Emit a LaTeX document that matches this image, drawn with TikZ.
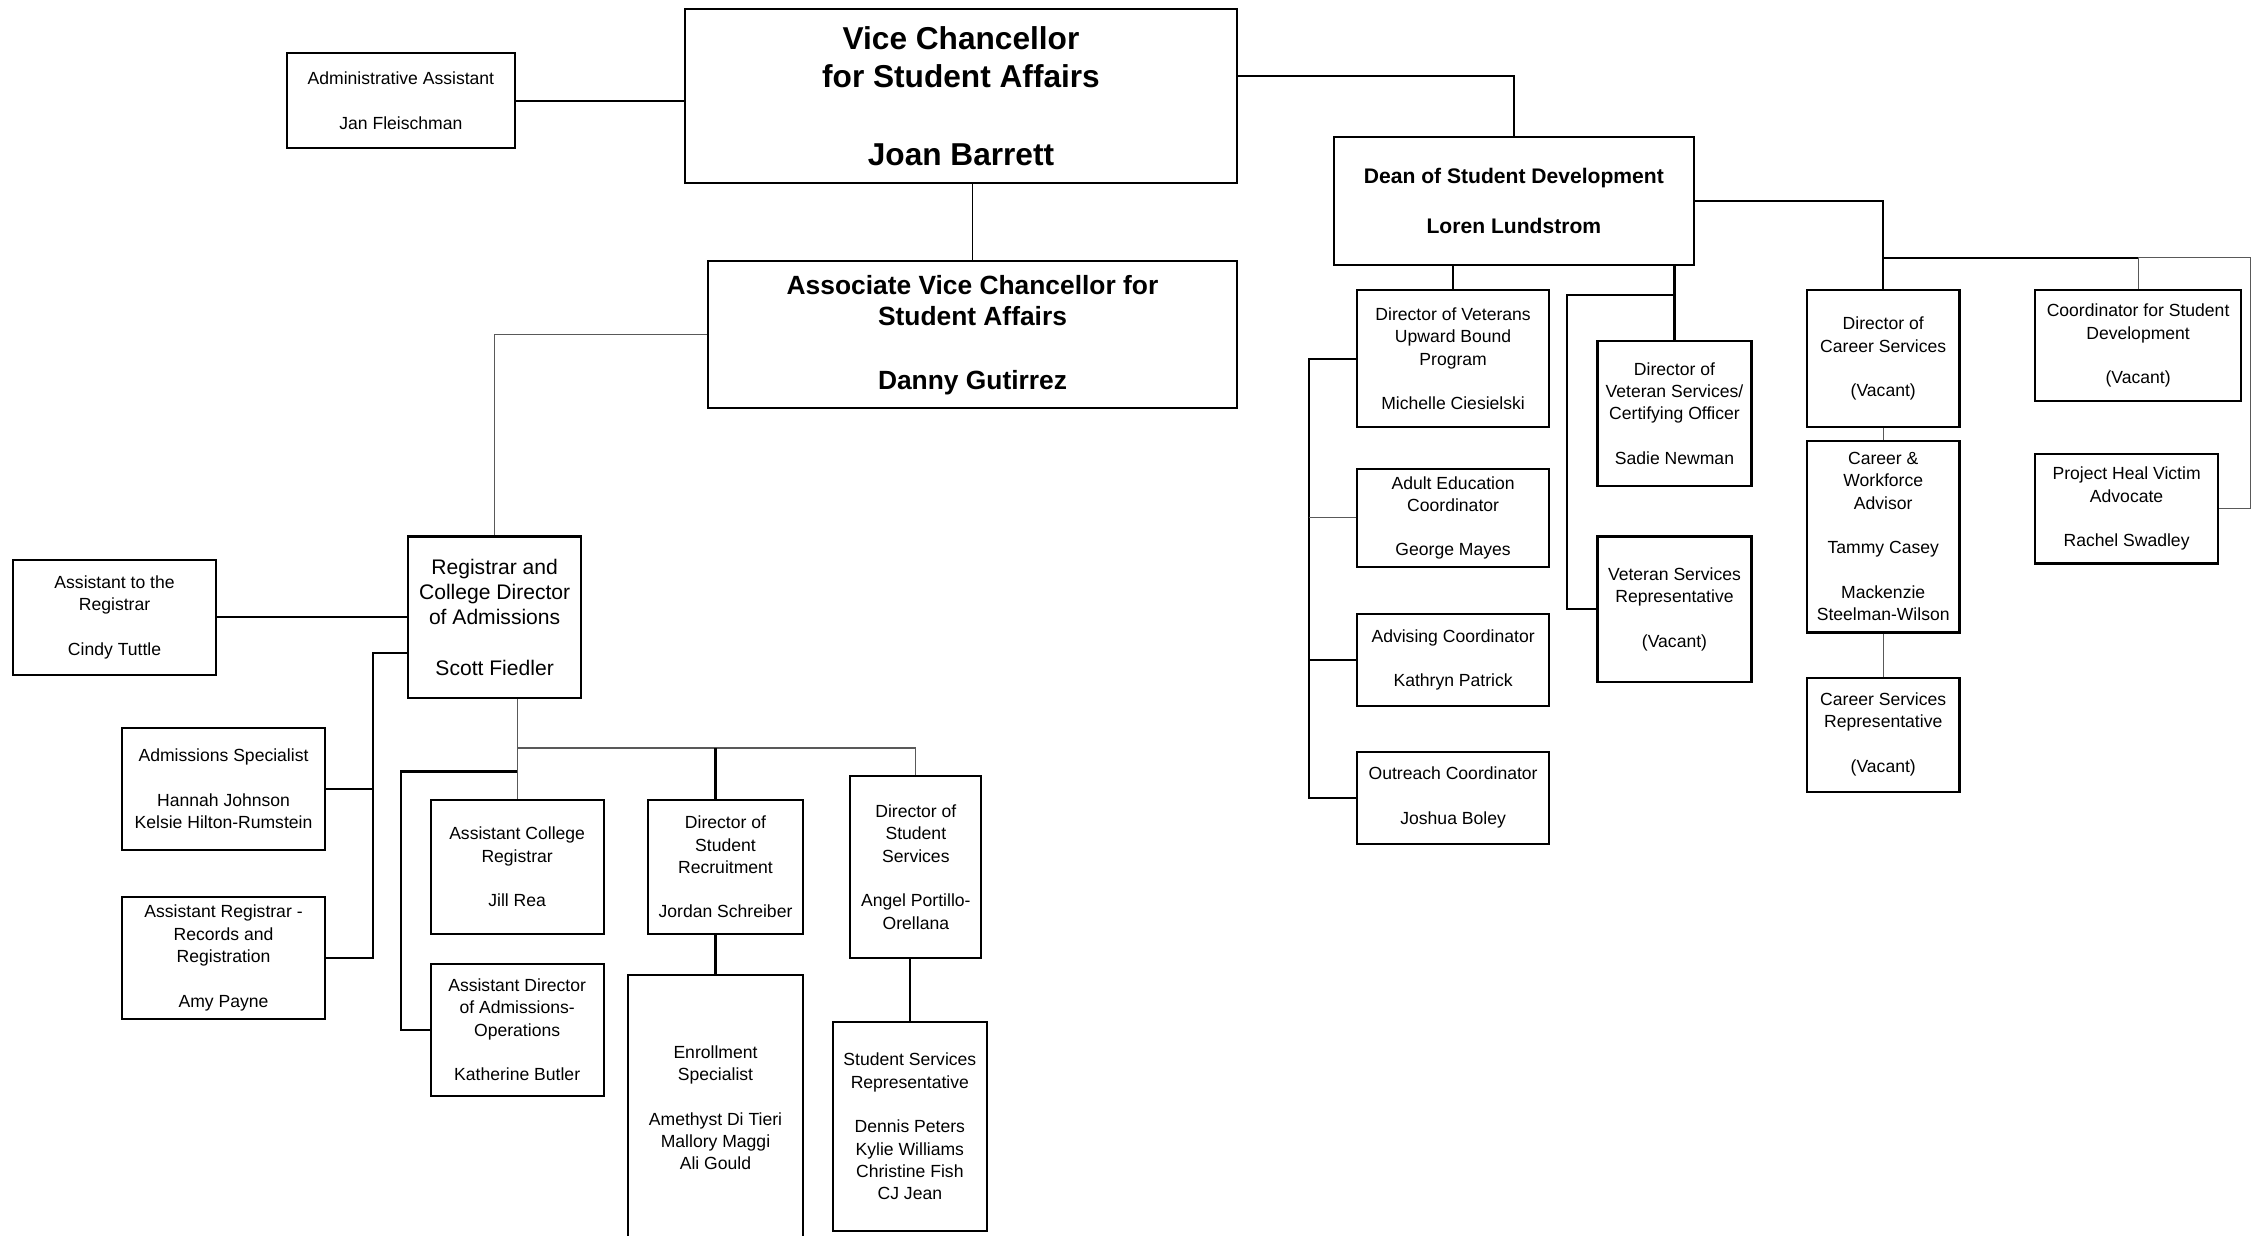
\documentclass[tikz,border=0pt]{standalone}
\usepackage{fontspec}
\setmainfont{Liberation Sans}
\usetikzlibrary{positioning}

\begin{document}
\begin{tikzpicture}[
    node distance=0.8cm and 1cm,
    box/.style={rectangle, draw, line width=1.2pt, align=center, inner sep=1pt, font=\fontsize{10}{12.7}\selectfont},
    link/.style={line width=1.2pt},
    thinlink/.style={line width=0.6pt, black!65}
]
    \useasboundingbox (0,0) rectangle (45.16,-24.71);

    % Top row
    \node[box, minimum width=11.03cm, minimum height=3.48cm, font=\fontsize{18}{22}\selectfont\bfseries] (vc) at (19.22,-1.915) {Vice Chancellor\\for Student Affairs\\[\baselineskip]Joan Barrett};
    \node[box, minimum width=4.55cm, minimum height=1.9cm, left=3.37cm of vc, yshift=-0.1cm] (admin) {Administrative Assistant\\[\baselineskip]Jan Fleischman};
    \node[box, minimum width=10.57cm, minimum height=2.94cm, font=\fontsize{15}{18}\selectfont\bfseries, below=1.53cm of vc.south east, anchor=north east] (avc) {Associate Vice Chancellor for\\Student Affairs\\[\baselineskip]Danny Gutirrez};
    \node[box, minimum width=7.2cm, minimum height=2.56cm, font=\fontsize{12}{14.3}\selectfont\bfseries, below right=2.56cm and 1.9cm of vc.north east] (dean) {Dean of Student Development\\[\baselineskip]Loren Lundstrom};

    % Registrar branch
    \node[box, minimum width=3.46cm, minimum height=3.23cm, font=\fontsize{12}{14.3}\selectfont, below left=2.52cm and 2.5cm of avc.south west] (reg) {Registrar and\\College Director\\of Admissions\\[\baselineskip]Scott Fiedler};
    \node[box, minimum width=4.06cm, minimum height=2.3cm, left=3.8cm of reg] (atr) {Assistant to the\\Registrar\\[\baselineskip]Cindy Tuttle};
    \node[box, minimum width=4.06cm, minimum height=2.45cm, below left=0.55cm and 1.62cm of reg.south west] (admspec) {Admissions Specialist\\[\baselineskip]Hannah Johnson\\Kelsie Hilton-Rumstein};
    \node[box, minimum width=4.06cm, minimum height=2.45cm, below=0.89cm of admspec] (arr) {Assistant Registrar -\\Records and\\Registration\\[\baselineskip]Amy Payne};
    \node[box, minimum width=3.46cm, minimum height=2.68cm, below=2.0cm of reg, xshift=0.45cm] (acr) {Assistant College\\Registrar\\[\baselineskip]Jill Rea};
    \node[box, minimum width=3.46cm, minimum height=2.65cm, below=0.55cm of acr] (adao) {Assistant Director\\of Admissions-\\Operations\\[\baselineskip]Katherine Butler};
    \node[box, minimum width=3.11cm, minimum height=2.68cm, right=0.84cm of acr] (dsr) {Director of\\Student\\Recruitment\\[\baselineskip]Jordan Schreiber};
    \node[box, minimum width=3.51cm, minimum height=5.3cm, below=0.78cm of dsr.south east, anchor=north east] (es) {Enrollment\\Specialist\\[\baselineskip]Amethyst Di Tieri\\Mallory Maggi\\Ali Gould};
    \node[box, minimum width=2.62cm, minimum height=3.63cm, right=0.9cm of dsr] (dss) {Director of\\Student\\Services\\[\baselineskip]Angel Portillo-\\Orellana};
    \node[box, minimum width=3.08cm, minimum height=4.18cm, below=1.24cm of dss, xshift=-0.12cm] (ssr) {Student Services\\Representative\\[\baselineskip]Dennis Peters\\Kylie Williams\\Christine Fish\\CJ Jean};

    % Student development branch
    \node[box, minimum width=3.83cm, minimum height=2.74cm, below right=0.47cm and 0.47cm of dean.south west] (dvub) {Director of Veterans\\Upward Bound\\Program\\[\baselineskip]Michelle Ciesielski};
    \node[box, minimum width=3.83cm, minimum height=1.96cm, below=0.79cm of dvub] (aec) {Adult Education\\Coordinator\\[\baselineskip]George Mayes};
    \node[box, minimum width=3.83cm, minimum height=1.84cm, below=0.9cm of aec] (advc) {Advising Coordinator\\[\baselineskip]Kathryn Patrick};
    \node[box, minimum width=3.83cm, minimum height=1.84cm, below=0.87cm of advc] (outc) {Outreach Coordinator\\[\baselineskip]Joshua Boley};
    \node[box, minimum width=3.08cm, minimum height=2.91cm, below right=1.01cm and 0.93cm of dvub.north east] (dvs) {Director of\\Veteran Services/\\Certifying Officer\\[\baselineskip]Sadie Newman};
    \node[box, minimum width=3.08cm, minimum height=2.91cm, below=0.96cm of dvs] (vsr) {Veteran Services\\Representative\\[\baselineskip](Vacant)};
    \node[box, minimum width=3.05cm, minimum height=2.74cm, right=5.12cm of dvub] (dcs) {Director of\\Career Services\\[\baselineskip](Vacant)};
    \node[box, minimum width=3.05cm, minimum height=3.83cm, below=0.23cm of dcs] (cwa) {Career \&\\Workforce\\Advisor\\[\baselineskip]Tammy Casey\\[\baselineskip]Mackenzie\\Steelman-Wilson};
    \node[box, minimum width=3.05cm, minimum height=2.28cm, below=0.86cm of cwa] (csr) {Career Services\\Representative\\[\baselineskip](Vacant)};
    \node[box, minimum width=4.12cm, minimum height=2.22cm, right=1.47cm of dcs.north east, anchor=north west] (csd) {Coordinator for Student\\Development\\[\baselineskip](Vacant)};
    \node[box, minimum width=3.66cm, minimum height=2.19cm, below=1.01cm of csd.south west, anchor=north west] (phv) {Project Heal Victim\\Advocate\\[\baselineskip]Rachel Swadley};

    % Lines from the top
    \draw[link] (admin.east) -- (admin.east -| vc.west);
    \draw[thinlink, black] (avc.north) -- (avc.north |- vc.south);
    \draw[link] ([yshift=0.39cm]vc.east) -| (dean.north);
    \draw[thinlink] (avc.west) -| (reg.north);

    % Registrar lines
    \draw[link] (atr.east) -- (reg.west);
    \path (reg.west) ++(-0.69,-0.72) coordinate (lbus);
    \draw[link] (lbus -| reg.west) -- (lbus) |- (arr.east);
    \draw[link] (admspec.east) -- (admspec.east -| lbus);
    \path (acr.north |- reg.south) ++(0,-0.98) coordinate (rbus);
    \draw[thinlink] (acr.north |- reg.south) -- (acr.north);
    \draw[thinlink] (rbus) -| (dss.north);
    \draw[link] (es.north |- rbus) -- (es.north |- dsr.north);
    \draw[link] (es.north) -- (es.north |- dsr.south);
    \draw[link] (ssr.north) -- (ssr.north |- dss.south);
    \path (acr.north) ++(0,0.55) coordinate (abus);
    \draw[link] (abus) -- ++(-2.33,0) |- (adao.west);

    % Dean lines
    \draw[link] (dvub.north) -- (dvub.north |- dean.south);
    \draw[link] (dvub.west) -- ++(-0.95,0) |- (outc.west);
    \draw[thinlink] (aec.west) -- ++(-0.95,0);
    \draw[link] (advc.west) -- ++(-0.95,0);
    \draw[link] (dvs.north) -- (dvs.north |- dean.south);
    \path (dvs.north |- dean.south) ++(0,-0.58) coordinate (vbus);
    \draw[link] (vbus) -| ([xshift=-0.58cm]vsr.west) -- (vsr.west);
    \draw[link] (dean.east) -| (dcs.north);
    \draw[thinlink] (dcs.south) -- (cwa.north);
    \draw[thinlink] (cwa.south) -- (csr.north);
    \path (dcs.north) ++(0,0.63) coordinate (cbus);
    \draw[link] (cbus) -- (csd.north |- cbus);
    \draw[thinlink] (csd.north |- cbus) -| ([xshift=0.62cm]phv.east) -- (phv.east);
    \draw[thinlink] (csd.north) -- (csd.north |- cbus);
\end{tikzpicture}
\end{document}
